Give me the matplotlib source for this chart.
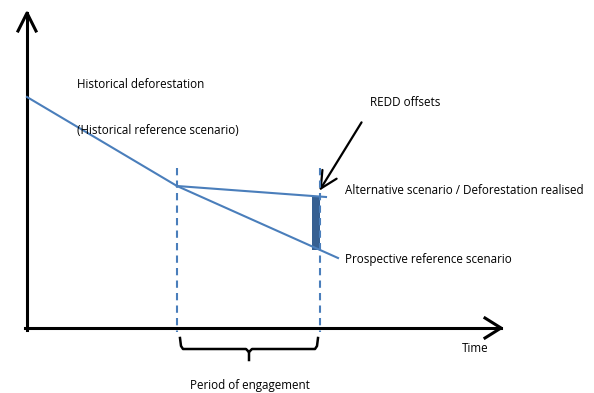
import matplotlib.pyplot as plt
from matplotlib.patches import FancyArrowPatch

# conceptual diagram, coordinates in a 594 x 393 canvas (y grows downward)
hist_x = [27, 177]
hist_y = [97, 186]
prosp_x = [177, 338]
prosp_y = [186, 258]
alt_x = [177, 326]
alt_y = [186, 197]
engage_start = 177
engage_end = 320
offset_top = 196
offset_bottom = 250

blue = '#4a7ebb'
dark = '#365f91'
plt.rcParams['font.family'] = ['Open Sans', 'DejaVu Sans']

fig = plt.figure(figsize=(5.94, 3.93), dpi=100)
ax = fig.add_axes([0, 0, 1, 1])
ax.set_xlim(0, 594)
ax.set_ylim(393, 0)
ax.axis('off')

# axes with open arrow heads
ax.plot([27, 27], [330, 13], color='black', lw=2.2)
ax.plot([18, 27, 36], [31, 13, 31], color='black', lw=2.2)
ax.plot([25, 501], [328, 328], color='black', lw=2.2)
ax.plot([485, 501, 485], [318, 328, 338], color='black', lw=2.2)

# scenario lines
ax.plot(hist_x, hist_y, color=blue, lw=1.5)
ax.plot(prosp_x, prosp_y, color=blue, lw=1.5)
ax.plot(alt_x, alt_y, color=blue, lw=1.5)

# period of engagement markers
for xv in [engage_start, engage_end]:
    ax.plot([xv, xv], [168, 332], color=blue, lw=1.5, ls=(0, (3.5, 2.5)))

# REDD offsets bar
ax.bar(316, offset_bottom - offset_top, width=8, bottom=offset_top, color=dark)

# arrow pointing to offsets
ax.add_patch(FancyArrowPatch((363, 120), (318, 193), arrowstyle='->,head_length=12,head_width=6',
                             color='black', lw=1.6, mutation_scale=1))

# brace
ax.plot([180, 181, 183, 246, 249, 249], [338, 346, 349, 349, 352, 360], color='black', lw=1.8)
ax.plot([318, 317, 315, 252, 249], [338, 346, 349, 349, 352], color='black', lw=1.8)

fs = 8.4
ax.text(77, 85, 'Historical deforestation', fontsize=fs, va='center')
ax.text(77, 131, '(Historical reference scenario)', fontsize=fs, va='center')
ax.text(370, 102, 'REDD offsets', fontsize=fs, va='center')
ax.text(345, 191, 'Alternative scenario / Deforestation realised', fontsize=fs, va='center')
ax.text(345, 260, 'Prospective reference scenario', fontsize=fs, va='center')
ax.text(462, 349, 'Time', fontsize=fs, va='center')
ax.text(190, 385, 'Period of engagement', fontsize=fs, va='center')

fig.savefig('out.png', dpi=100)
